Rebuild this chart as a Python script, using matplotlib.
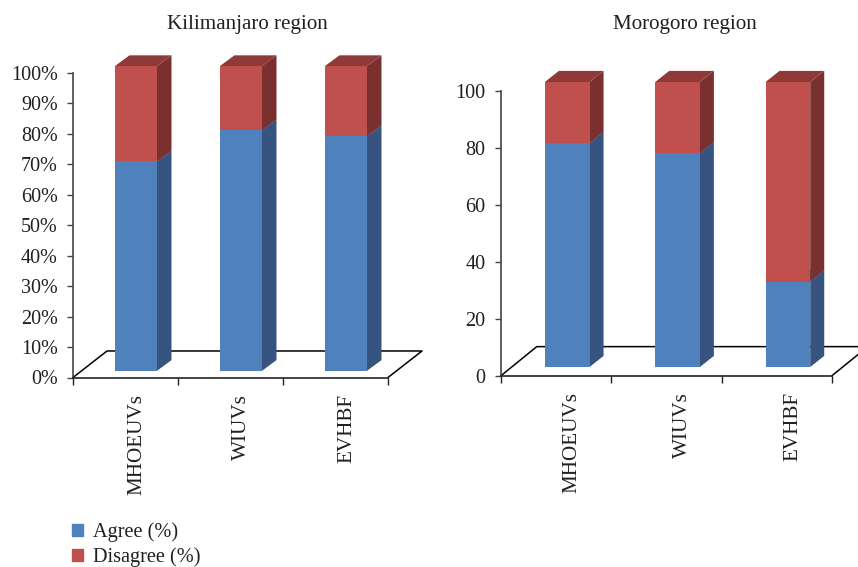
import matplotlib
matplotlib.use("Agg")
import matplotlib.pyplot as plt
from matplotlib.patches import Patch, Polygon

plt.rcParams['font.family'] = ['Liberation Serif', 'DejaVu Serif']
plt.rcParams['text.color'] = '#231f20'

W, H = 858, 567

categories = ['MHOEUVs', 'WIUVs', 'EVHBF']
kilimanjaro_agree = [68.7, 79.0, 77.0]
kilimanjaro_disagree = [31.3, 21.0, 23.0]
morogoro_agree = [78.6, 75.1, 30.0]
morogoro_disagree = [21.4, 24.9, 70.0]

pct_ticks = [0, 10, 20, 30, 40, 50, 60, 70, 80, 90, 100]
pct_labels = ['0%', '10%', '20%', '30%', '40%', '50%', '60%', '70%', '80%', '90%', '100%']
num_ticks = [0, 20, 40, 60, 80, 100]
num_labels = ['0', '20', '40', '60', '80', '100']

BLUE = ('#4f81bd', '#375480', '#3d6596')
RED = ('#c0504d', '#7a302f', '#8f3a38')


def box(ax, x0, x1, y0, y1, dx, dy, colors, z):
    front, side, top = colors
    ax.add_patch(Polygon([(x1, y0), (x1 + dx, y0 + dy), (x1 + dx, y1 + dy), (x1, y1)],
                         fc=side, ec='none', zorder=z, clip_on=False))
    ax.add_patch(Polygon([(x0, y1), (x0 + dx, y1 + dy), (x1 + dx, y1 + dy), (x1, y1)],
                         fc=top, ec='none', zorder=z, clip_on=False))
    ax.bar(x0, y1 - y0, width=x1 - x0, bottom=y0, align='edge', color=front,
           zorder=z + 0.1, clip_on=False)


def panel(rect_px, agree, disagree, ticks, labels, shift, width, base, dx, dy, fx, fy, label_shift):
    left, right, top, bottom = rect_px
    ax = plt.gcf().add_axes([left / W, 1 - bottom / H, (right - left) / W, (bottom - top) / H])
    ax.set_xlim(0, 3)
    ax.set_ylim(0, 100)
    ax.patch.set_alpha(0)

    # floor of the 3D box
    ax.plot([0, fx, 3 + fx, 3], [0, fy, fy, 0], color='black', lw=1.1, clip_on=False, zorder=1)

    for i in range(3):
        x0 = i + 0.5 + shift - width / 2
        x1 = x0 + width
        split = base + agree[i]
        box(ax, x0, x1, base, split, dx, dy, BLUE, 2)
        box(ax, x0, x1, split, split + disagree[i], dx, dy, RED, 3)

    for s in ['top', 'right']:
        ax.spines[s].set_visible(False)
    ax.spines['left'].set_color('#444444')
    ax.spines['left'].set_linewidth(1.2)
    ax.spines['bottom'].set_color('#222222')
    ax.spines['bottom'].set_linewidth(1.2)

    ax.set_yticks(ticks)
    ax.set_yticklabels(labels, fontsize=14.5)
    ax.set_xticks([0, 1, 2, 3])
    ax.set_xticklabels([])
    ax.set_xticks([i + 0.5 + label_shift for i in range(3)], categories, minor=True,
                  rotation=90, fontsize=15.2, va='top', ha='center')
    ax.tick_params(axis='y', length=4.5, width=1, color='#444444', pad=6.5, labelcolor='#231f20')
    ax.tick_params(axis='x', which='major', length=5, width=1, color='#222222')
    ax.tick_params(axis='x', which='minor', length=0, pad=12, labelcolor='#231f20')
    return ax


fig = plt.figure(figsize=(W / 100, H / 100), dpi=100, facecolor='white')

panel((73, 388, 72.7, 377.5), kilimanjaro_agree, kilimanjaro_disagree, pct_ticks, pct_labels,
      shift=0.1, width=0.4, base=2.2, dx=0.138, dy=3.5, fx=0.324, fy=8.7, label_shift=0.105)
panel((501, 832, 90.7, 375.7), morogoro_agree, morogoro_disagree, num_ticks, num_labels,
      shift=0.1, width=0.405, base=3.05, dx=0.127, dy=3.9, fx=0.324, fy=10.2, label_shift=0.145)

fig.text(247.5 / W, 1 - 25 / H, 'Kilimanjaro region', ha='center', va='center', fontsize=15.1)
fig.text(684.5 / W, 1 - 25 / H, 'Morogoro region', ha='center', va='center', fontsize=15.1)

handles = [Patch(color=BLUE[0], label='Agree (%)'), Patch(color=RED[0], label='Disagree (%)')]
fig.legend(handles=handles, loc='upper left', bbox_to_anchor=(72 / W, 1 - 522 / H),
           frameon=False, fontsize=14.6, borderpad=0, borderaxespad=0, handlelength=0.53,
           handleheight=0.53, handletextpad=0.5, labelspacing=0.27)

fig.savefig('out.png', dpi=100)
